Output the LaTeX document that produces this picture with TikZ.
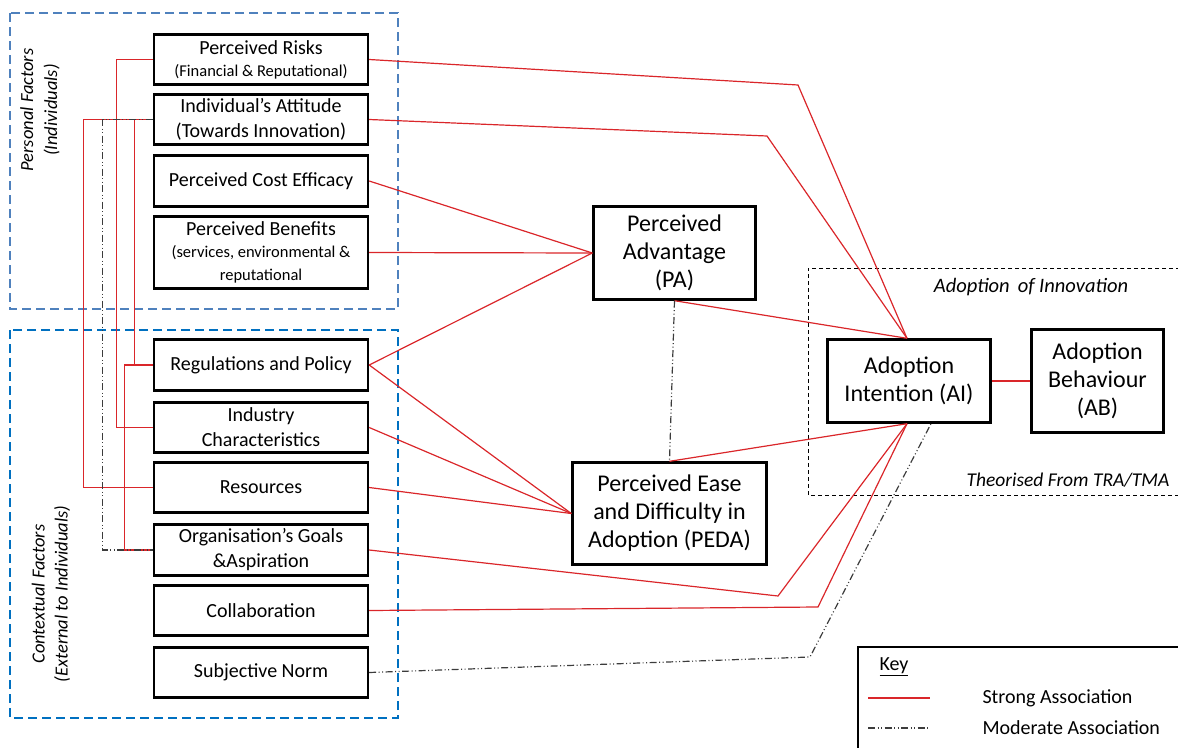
\documentclass[tikz,border=0pt]{standalone}
\usepackage{fontspec}
\setmainfont{Carlito}
\definecolor{strongred}{RGB}{218,38,42}
\definecolor{persblue}{RGB}{79,129,189}
\definecolor{ctxblue}{RGB}{0,112,192}
\definecolor{modgray}{RGB}{60,60,60}
\newcommand\fz[2]{\fontsize{#1}{#2}\selectfont}
\begin{document}
\begin{tikzpicture}[x=1pt,y=-1pt,
  lbox/.style={draw=black, line width=2.4pt, minimum width=214pt, align=center, inner sep=1pt, font=\fz{20}{25}},
  cbox/.style={draw=black, line width=2.4pt, align=center, inner sep=1pt, font=\fz{24}{28}},
  strong/.style={draw=strongred, line width=1.2pt},
  moderate/.style={draw=modgray, line width=1.2pt, dash pattern=on 7pt off 2.5pt on 1pt off 2.5pt on 1pt off 2.5pt},
  grpbox/.style={line width=2.4pt, dash pattern=on 9pt off 5pt}
]
\useasboundingbox (0,0) rectangle (1178,747);
% group boxes
\draw[grpbox, draw=persblue] (10,13) rectangle (398,309);
\draw[grpbox, draw=ctxblue] (10,330) rectangle (398,718);
\node[rotate=90, align=center, font=\itshape\fz{18.5}{24}] (perslabel) at (40,110) {Personal Factors\\(Individuals)};
\node[rotate=90, align=center, font=\itshape\fz{18.5}{23}] (ctxlabel) at (51,594) {Contextual Factors\\(External to Individuals)};
% adoption box
\draw[line width=1pt, dash pattern=on 4pt off 3pt] (1180,268) -- (808,268) -- (808,495) -- (1180,495);
\node[font=\itshape\fz{20.5}{24}] (adlabel) at (1031,287) {Adoption\, of Innovation};
\node[font=\itshape\fz{19.5}{24}, anchor=east] (thlabel) at (1173,480) {Theorised From TRA/TMA};
% left boxes
\node[lbox, minimum height=50pt] (risks) at (261,59.5) {Perceived Risks\\[-3pt]{\fz{16.5}{19}\selectfont (Financial \& Reputational)}};
\node[lbox, minimum height=50pt] (att) at (261,119.5) {Individual’s Attitude\\(Towards Innovation)};
\node[lbox, minimum height=51pt] (cost) at (261,181) {Perceived Cost Efficacy};
\node[lbox, minimum height=72pt] (ben) at (261,252.5) {Perceived Benefits\\[-3pt]{\fz{16.5}{20}\selectfont (services, environmental \&}\\[-2pt]{\fz{16.5}{20}\selectfont reputational}};
\node[lbox, minimum height=51pt] (reg) at (261,365) {Regulations and Policy};
\node[lbox, minimum height=50pt] (ind) at (261,427.5) {Industry\\Characteristics};
\node[lbox, minimum height=50pt] (res) at (261,487.5) {Resources};
\node[lbox, minimum height=51pt] (org) at (261,550) {Organisation’s Goals\\\&Aspiration};
\node[lbox, minimum height=50pt] (col) at (261,610.5) {Collaboration};
\node[lbox, minimum height=50pt] (sn) at (261,672.5) {Subjective Norm};
% central boxes
\node[cbox, minimum width=162pt, minimum height=93pt] (pa) at (674.5,253) {Perceived\\Advantage\\(PA)};
\node[cbox, minimum width=194pt, minimum height=102pt] (peda) at (669.5,513.5) {Perceived Ease\\and Difficulty in\\Adoption (PEDA)};
\node[cbox, minimum width=163pt, minimum height=83pt] (ai) at (909,381) {Adoption\\Intention (AI)};
\node[cbox, minimum width=132pt, minimum height=103pt] (ab) at (1097.5,381) {Adoption\\Behaviour\\(AB)};
% bend coordinates
\coordinate (b1) at (798,85);
\coordinate (b2) at (767,136);
\coordinate (b3) at (778,596);
\coordinate (b4) at (818,607);
\coordinate (b5) at (810,657);
\coordinate (aitop) at ([xshift=-2pt]ai.north);
\coordinate (aibot) at ([xshift=-2pt]ai.south);
\coordinate (aibot2) at ([xshift=22pt]ai.south);
% left brackets
\draw[strong] (risks.west) -- ++(-36,0) |- (ind.west);
\draw[strong] (att.west) -- ++(-69,0) |- (res.west);
\draw[strong] (att.west) -- ++(-18,0) |- (reg.west);
\draw[strong] (reg.west) -- ++(-28,0) |- (org.west);
\draw[moderate] (att.west) -- ++(-50,0) |- (org.west);
% strong connectors
\draw[strong] (risks.east) -- (b1) -- (aitop);
\draw[strong] (att.east) -- (b2) -- (aitop);
\draw[strong] (cost.east) -- (pa.west);
\draw[strong] (ben.east) -- (pa.west);
\draw[strong] (reg.east) -- (pa.west);
\draw[strong] (reg.east) -- (peda.west);
\draw[strong] (ind.east) -- (peda.west);
\draw[strong] (res.east) -- (peda.west);
\draw[strong] (org.east) -- (b3) -- (aibot);
\draw[strong] (col.east) -- (b4) -- (aibot);
\draw[strong] (pa.south) -- (aitop);
\draw[strong] (peda.north) -- (aibot);
\draw[strong] (ai.east) -- (ab.west);
% moderate connectors
\draw[moderate] (pa.south) -- (peda.north);
\draw[moderate] (sn.east) -- (b5) -- (aibot2);
% key
\draw[line width=1.3pt] (858,750) -- (858,647) -- (1180,647);
\node[anchor=west, font=\fz{20}{24}] (keytitle) at (876,667) {\underline{Key}};
\coordinate (k1a) at (868,698); \coordinate (k1b) at (930,698);
\coordinate (k2a) at (868,728); \coordinate (k2b) at (930,728);
\draw[strong] (k1a) -- (k1b);
\draw[moderate] (k2a) -- (k2b);
\node[anchor=west, font=\fz{20}{24}] (k1) at (979,698) {Strong Association};
\node[anchor=west, font=\fz{20}{24}] (k2) at (979,728) {Moderate Association};
\end{tikzpicture}
\end{document}
